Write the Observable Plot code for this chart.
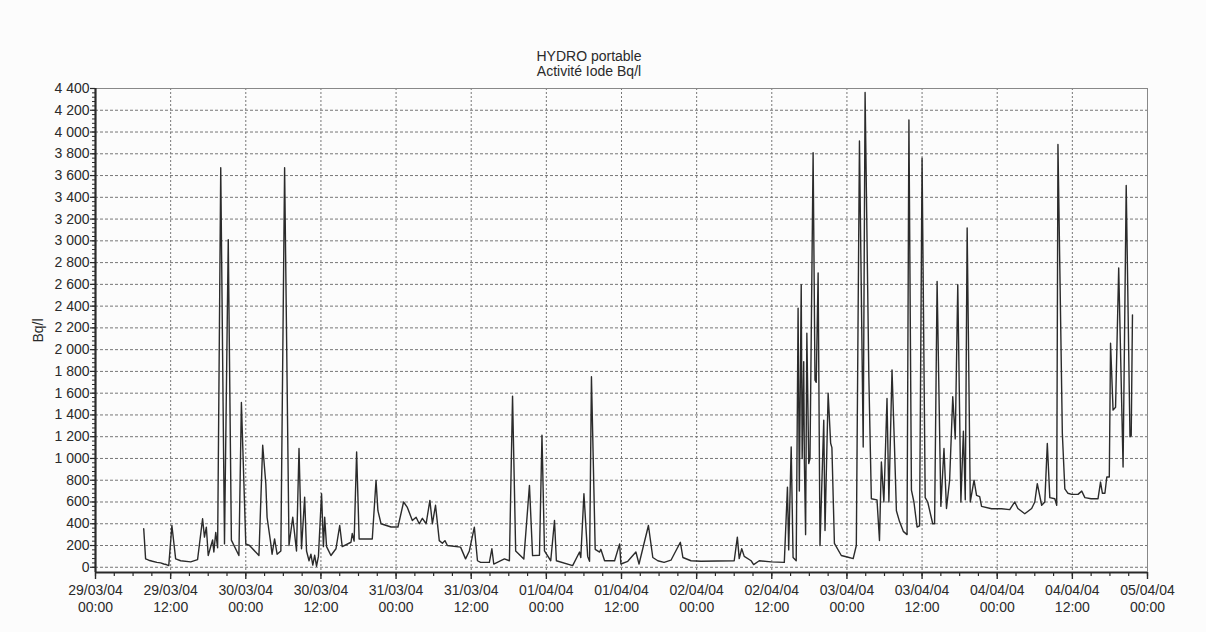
<!DOCTYPE html>
<html>
<head>
<meta charset="utf-8">
<script src="https://cdn.jsdelivr.net/npm/d3@7"></script>
<script src="https://cdn.jsdelivr.net/npm/@observablehq/plot@0.6"></script>
<style>
  html, body { margin: 0; padding: 0; background: #fcfcfc; }
  body { width: 1206px; height: 632px; overflow: hidden; font-family: "Liberation Sans", Arial, sans-serif; }
  #head { width: 1178px; height: 80px; box-sizing: border-box; padding-top: 49px; text-align: center; font-size: 14px; line-height: 15px; color: #2a2a2a; }
  #chart svg { display: block; }
</style>
</head>
<body>
<div id="head"><div>HYDRO portable</div><div>Activité Iode Bq/l</div></div>
<div id="chart"></div>
<script>
// Hours elapsed since 29/03/04 00:00
const hours = [
  7.7, 8.0, 8.5, 9.1, 9.8, 10.4, 10.9, 11.3, 11.7, 12.2, 12.8, 13.6, 15.2, 16.3, 17.1, 17.4, 17.7, 18.0, 18.7, 18.9,
  19.2, 19.5, 20.0, 20.6, 21.2, 21.7, 22.9, 23.3, 24.0, 24.6, 26.1, 26.7, 27.2, 27.4, 28.0, 28.2, 28.6, 29.0, 29.6, 30.2,
  30.9, 31.5, 32.1, 32.5, 32.9, 33.4, 33.7, 34.1, 34.4, 34.7, 35.0, 35.3, 35.6, 36.1, 36.4, 36.6, 36.9, 37.6, 38.4, 39.0,
  39.4, 40.8, 41.0, 41.3, 41.7, 42.1, 44.2, 44.8, 45.1, 45.6, 47.2, 48.3, 49.2, 49.8, 50.6, 51.2, 51.7, 52.2, 52.8, 53.4,
  53.8, 54.3, 54.9, 55.4, 55.8, 56.2, 58.3, 59.1, 59.7, 60.5, 61.0, 61.5, 62.9, 63.3, 63.6, 65.3, 66.1, 66.6, 67.1, 68.4,
  69.3, 69.8, 70.9, 71.3, 71.7, 72.7, 73.3, 73.6, 76.2, 77.3, 77.5, 78.0, 78.6, 78.9, 79.2, 79.8, 80.5, 80.7, 81.3, 82.9, 83.7,
  83.9, 85.0, 86.3, 86.8, 88.3, 89.0, 89.8, 90.8, 91.9, 93.4, 93.8, 95.1, 96.7, 102.0, 102.5, 102.8, 103.2, 103.6, 104.7, 105.1,
  106.0, 107.9, 110.0, 110.5, 110.7, 111.1, 111.4, 111.9, 112.2, 112.4, 112.7, 112.85, 113.1, 113.2, 113.4, 113.6, 113.9, 114.1, 114.6, 114.9,
  115.1, 115.4, 115.7, 116.3, 116.5, 117.0, 117.4, 117.6, 118.0, 119.1, 120.2, 121.0, 121.5, 122.0, 122.6, 122.9, 123.4, 123.5, 123.9, 124.8,
  125.2, 125.5, 125.9, 126.4, 126.7, 127.2, 127.6, 127.9, 128.4, 129.0, 129.6, 129.9, 130.3, 130.7, 131.2, 131.6, 132.0, 132.5, 132.9, 133.7, 134.0, 134.4,
  135.0, 135.5, 135.9, 136.4, 136.9, 137.3, 137.7, 138.2, 138.6, 138.9, 139.2, 139.7, 140.3, 140.7, 141.2, 141.5, 143.1, 144.7, 146.0, 146.8,
  147.3, 148.4, 149.5, 150.0, 150.4, 151.1, 151.6, 152.0, 152.4, 153.2, 153.5, 153.7, 154.4, 154.8, 155.3, 155.9, 156.9, 157.5, 158.0, 159.0,
  160.1, 160.5, 160.8, 161.2, 161.5, 161.9, 162.1, 162.5, 162.9, 163.4, 164.1, 164.6, 165.2, 165.4, 165.6
];
// Iodine activity, Bq/l
const values = [
  354, 77, 65, 55, 45, 40, 30, 25, 15, 384, 77, 60, 50, 70, 446, 277, 369, 108, 252, 140,
  320, 180, 3672, 215, 3011, 250, 108, 1515, 215, 200, 108, 1121, 768, 460, 215, 120, 260, 120, 150, 3672,
  200, 460, 150, 1091, 170, 645, 150, 60, 120, 20, 110, 10, 100, 676, 190, 460, 190, 108, 170, 384,
  190, 230, 310, 240, 1060, 260, 260, 799, 520, 400, 370, 370, 600, 550, 430, 460, 400, 450, 400, 615,
  400, 570, 245, 220, 245, 200, 185, 77, 150, 369, 60, 45, 45, 170, 30, 77, 60, 1573, 150, 75,
  753, 107, 110, 1214, 150, 60, 430, 60, 15, 140, 90, 676, 100, 55, 1751, 165, 140, 165, 60, 60, 215,
  30, 55, 140, 30, 384, 90, 60, 45, 65, 230, 90, 60, 55, 60, 277, 80, 170, 100, 60, 25,
  60, 50, 45, 737, 160, 1106, 90, 60, 2381, 700, 2596, 1000, 1890, 1000, 300, 2151, 953, 1000, 3810, 1720,
  1700, 2704, 200, 1352, 338, 1600, 1140, 1100, 220, 108, 92, 80, 200, 3917, 1106, 4363, 2182, 1750, 630, 620,
  246, 968, 600, 1552, 600, 1813, 1100, 520, 420, 330, 300, 4110, 710, 600, 370, 380, 3760, 640, 600, 400, 400, 2627,
  560, 1091, 540, 800, 1567, 1180, 2596, 600, 1250, 620, 3119, 600, 800, 660, 650, 560, 538, 538, 530, 600,
  540, 492, 540, 600, 768, 570, 600, 1137, 640, 630, 570, 3886, 1229, 720, 680, 670, 670, 700, 640, 630,
  630, 783, 680, 680, 830, 830, 2059, 1444, 1470, 2750, 922, 3509, 1200, 1210, 2320
];
const xTicks = [
  "2004-03-29T00:00Z", "2004-03-29T12:00Z", "2004-03-30T00:00Z", "2004-03-30T12:00Z",
  "2004-03-31T00:00Z", "2004-03-31T12:00Z", "2004-04-01T00:00Z", "2004-04-01T12:00Z",
  "2004-04-02T00:00Z", "2004-04-02T12:00Z", "2004-04-03T00:00Z", "2004-04-03T12:00Z",
  "2004-04-04T00:00Z", "2004-04-04T12:00Z", "2004-04-05T00:00Z"
].map(s => new Date(s));
const yTicks = [0, 200, 400, 600, 800, 1000, 1200, 1400, 1600, 1800, 2000, 2200, 2400, 2600, 2800, 3000, 3200, 3400, 3600, 3800, 4000, 4200, 4400];
const yDomain = [-48, 4400];

const start = xTicks[0].getTime();
const data = hours.map((h, i) => ({date: new Date(start + h * 3600e3), value: values[i]}));
const xDomain = [xTicks[0], xTicks[xTicks.length - 1]];
const xMinor = d3.utcHour.every(3).range(xDomain[0], new Date(xDomain[1].getTime() + 1));
const yMinor = d3.range(0, 4401, 40);

const pad = n => String(n).padStart(2, "0");
const fmtX = d => `${pad(d.getUTCDate())}/${pad(d.getUTCMonth() + 1)}/${pad(d.getUTCFullYear() % 100)}\n${pad(d.getUTCHours())}:${pad(d.getUTCMinutes())}`;
const fmtY = d => d3.format(",")(d).replace(/,/g, " ");

const font = "Liberation Sans, Arial, sans-serif";
const chart = Plot.plot({
  width: 1206,
  height: 552,
  marginLeft: 95,
  marginRight: 59,
  marginTop: 8,
  marginBottom: 60,
  style: {fontFamily: font, fontSize: "14px", color: "#2a2a2a", background: "transparent"},
  x: {type: "utc", domain: xDomain},
  y: {domain: yDomain},
  marks: [
    Plot.gridX(xTicks.slice(1, -1), {stroke: "#777", strokeOpacity: 1, strokeDasharray: "2,2", strokeWidth: 1}),
    Plot.gridY(yTicks, {stroke: "#777", strokeOpacity: 1, strokeDasharray: "3,2", strokeWidth: 1}),
    Plot.frame({stroke: "#888", strokeWidth: 1}),
    Plot.axisX(xMinor, {tickSize: 4, tickFormat: () => "", stroke: "#2a2a2a", strokeWidth: 1.2, label: null}),
    Plot.axisX(xTicks, {tickSize: 7, tickPadding: 4, tickFormat: fmtX, lineHeight: 1.2, fontSize: 14, fill: "#2a2a2a", stroke: "#2a2a2a", strokeWidth: 1.4, label: null}),
    Plot.axisY(yMinor, {tickSize: 3, tickFormat: () => "", stroke: "#2a2a2a", strokeWidth: 1, label: null}),
    Plot.axisY(yTicks, {tickSize: 5, tickPadding: 1, tickFormat: fmtY, fontSize: 14, fill: "#2a2a2a", stroke: "#2a2a2a", strokeWidth: 1.2,
      label: "Bq/l", labelAnchor: "center", labelArrow: "none", labelOffset: 62}),
    Plot.ruleX([xDomain[0]], {stroke: "#2a2a2a", strokeWidth: 2.2}),
    Plot.ruleY([yDomain[0]], {stroke: "#2a2a2a", strokeWidth: 2.2}),
    Plot.line(data, {x: "date", y: "value", stroke: "#2b2b2b", strokeWidth: 1.4})
  ]
});
document.getElementById("chart").appendChild(chart);
</script>
</body>
</html>
